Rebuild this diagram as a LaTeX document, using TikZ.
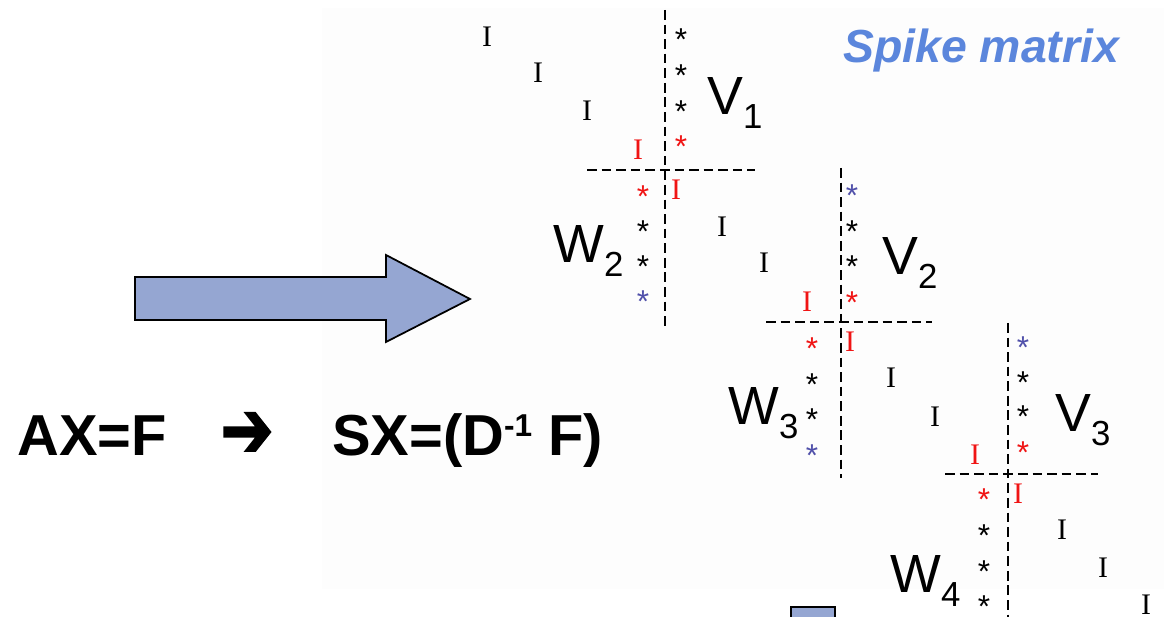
\documentclass[tikz,border=0pt]{standalone}
\usepackage{fontspec}
\setmainfont{Liberation Serif}
\setsansfont{Liberation Sans}
\newfontfamily\dejavuheavy[FakeBold=2.5]{DejaVu Sans Bold}
\definecolor{spikeblue}{RGB}{91,134,220}
\definecolor{arrowfill}{RGB}{149,166,210}
\definecolor{astblue}{RGB}{80,80,170}
\definecolor{redmark}{RGB}{240,20,20}
\newcommand{\lowsub}[1]{\raisebox{-0.28cm}{\fontsize{19.8}{20}\selectfont #1}}
\begin{document}
\begin{tikzpicture}[x=0.02cm,y=-0.02cm,
  iletter/.style={font=\fontsize{17}{17}\selectfont\rmfamily, inner sep=0pt},
  ast/.style={font=\fontsize{18}{18}\selectfont\sffamily, inner sep=0pt, anchor=base, yshift=-0.35cm},
  lab/.style={font=\fontsize{30.6}{31}\selectfont\sffamily, inner sep=0pt, anchor=base west},
  sepline/.style={line width=1.5pt, dash pattern=on 5.5pt off 2.8pt},
  eq/.style={font=\fontsize{32.9}{33}\selectfont\sffamily\bfseries, inner sep=0pt, anchor=base west}]
\useasboundingbox (0,0) rectangle (1164,617);
\clip (0,0) rectangle (1164,617);
\fill[black!0.8] (322,8) rectangle (1164,589);

% title
\node[font=\fontsize{26.4}{27}\selectfont\sffamily\bfseries\itshape, text=spikeblue, inner sep=0pt, anchor=base west] (title) at (843,63) {Spike matrix};

% big arrow
\draw[fill=arrowfill, line width=1pt, line join=miter] (135,277) -- (386,277) -- (386,255) -- (470,299) -- (386,342) -- (386,320) -- (135,320) -- cycle;

% equation
\node[eq] (lhs) at (17,456) {AX=F};
\node[inner sep=0pt] (imp) at (247,435) {\resizebox{1.06cm}{0.88cm}{\dejavuheavy ➔}};
\node[eq] (rhs) at (332,456) {SX=(D\raisebox{0.38cm}{\fontsize{18}{18}\selectfont -1} F)};

% dashed separators
\coordinate (v1t) at (665,10); \coordinate (v1b) at (665,328);
\coordinate (h1l) at (587,170); \coordinate (h1r) at (755,170);
\coordinate (v2t) at (841,168); \coordinate (v2b) at (841,478);
\coordinate (h2l) at (766,322); \coordinate (h2r) at (932,322);
\coordinate (v3t) at (1008,323); \coordinate (v3b) at (1008,630);
\coordinate (h3l) at (945,474); \coordinate (h3r) at (1098,474);
\draw[sepline] (v1t) -- (v1b);
\draw[sepline] (h1l) -- (h1r);
\draw[sepline] (v2t) -- (v2b);
\draw[sepline] (h2l) -- (h2r);
\draw[sepline] (v3t) -- (v3b);
\draw[sepline] (h3l) -- (h3r);

% identity blocks
\node[iletter] (i1) at (487,37) {I};
\node[iletter] (i2) at (538,73) {I};
\node[iletter] (i3) at (587,111) {I};
\node[iletter, text=redmark] (i4) at (638,150) {I};
\node[iletter, text=redmark] (i5) at (676,190) {I};
\node[iletter] (i6) at (722,227) {I};
\node[iletter] (i7) at (764,263) {I};
\node[iletter, text=redmark] (i8) at (807,302) {I};
\node[iletter, text=redmark] (i9) at (850,342) {I};
\node[iletter] (i10) at (891,378) {I};
\node[iletter] (i11) at (935,417) {I};
\node[iletter, text=redmark] (i12) at (975,455) {I};
\node[iletter, text=redmark] (i13) at (1018,494) {I};
\node[iletter] (i14) at (1062,530) {I};
\node[iletter] (i15) at (1103,568) {I};
\node[iletter] (i16) at (1146,605) {I};

% spikes V1
\node[ast] (a1) at (681,33) {*};
\node[ast] (a2) at (681,69) {*};
\node[ast] (a3) at (681,105) {*};
\node[ast, text=redmark] (a4) at (681,140) {*};
% W2
\node[ast, text=redmark] (b1) at (643,190) {*};
\node[ast] (b2) at (643,225) {*};
\node[ast] (b3) at (643,260) {*};
\node[ast, text=astblue] (b4) at (643,295) {*};
% V2
\node[ast, text=astblue] (c1) at (852,189) {*};
\node[ast] (c2) at (852,225) {*};
\node[ast] (c3) at (852,260) {*};
\node[ast, text=redmark] (c4) at (852,296) {*};
% W3
\node[ast, text=redmark] (d1) at (812,342) {*};
\node[ast] (d2) at (812,378) {*};
\node[ast] (d3) at (812,413) {*};
\node[ast, text=astblue] (d4) at (812,449) {*};
% V3
\node[ast, text=astblue] (e1) at (1023,341) {*};
\node[ast] (e2) at (1023,376) {*};
\node[ast] (e3) at (1023,410) {*};
\node[ast, text=redmark] (e4) at (1023,446) {*};
% W4
\node[ast, text=redmark] (f1) at (984,493) {*};
\node[ast] (f2) at (984,529) {*};
\node[ast] (f3) at (984,565) {*};
\node[ast] (f4) at (984,600) {*};

% labels
\node[lab] (V1) at (707,115) {V\lowsub{1}};
\node[lab] (W2) at (553,263) {W\lowsub{2}};
\node[lab] (V2) at (882,275) {V\lowsub{2}};
\node[lab] (W3) at (728,425) {W\lowsub{3}};
\node[lab] (V3) at (1055,432) {V\lowsub{3}};
\node[lab] (W4) at (890,593) {W\lowsub{4}};

% partial box at bottom
\draw[fill=arrowfill, line width=1pt] (791,607) rectangle (835,640);
\end{tikzpicture}
\end{document}
